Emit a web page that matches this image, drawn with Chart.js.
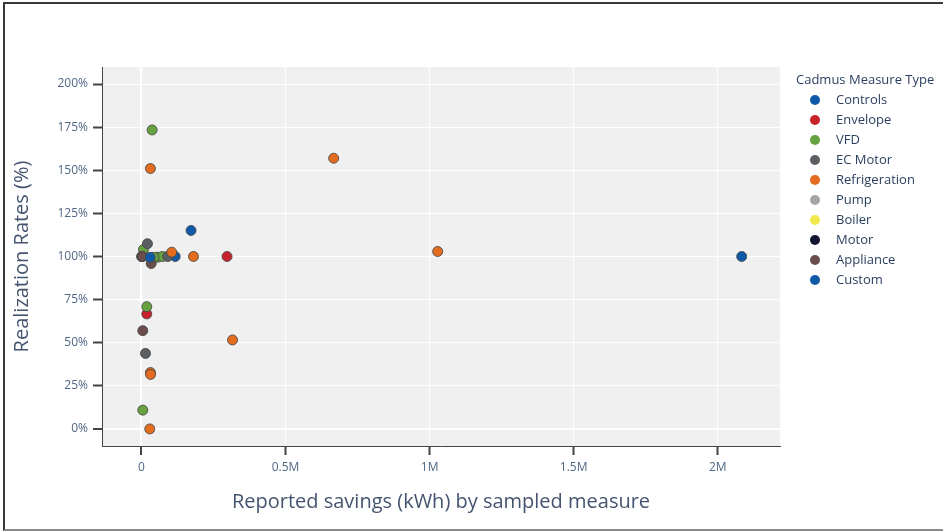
<!DOCTYPE html>
<html>
<head>
<meta charset="utf-8">
<script src="https://cdn.jsdelivr.net/npm/chart.js@4.4.1/dist/chart.umd.min.js"></script>
<style>
  body { margin: 0; background: #fff; overflow: hidden; font-family: "Open Sans", sans-serif; }
  #wrap { position: relative; width: 943px; height: 531px; }
  #frame { position: absolute; left: 3px; top: 2px; width: 960px; height: 525px;
           border-left: 2px solid #3a3a3a; border-top: 2px solid #3a3a3a; border-bottom: 2px solid #8a8a8a;
           pointer-events: none; }
  #legend { position: absolute; left: 796px; top: 71px; color: #2a3f5f; font-size: 13px; }
  #legend .ttl { line-height: 16px; margin-bottom: 2px; }
  #legend .row { line-height: 20px; height: 20px; white-space: nowrap; }
  #legend .dot { display: inline-block; width: 10px; height: 10px; border-radius: 50%;
                 margin-left: 14px; margin-right: 16px; vertical-align: -1px; }
</style>
</head>
<body>
<div id="wrap">
  <canvas id="scatter" width="943" height="531"></canvas>
  <div id="legend"></div>
  <div id="frame"></div>
</div>
<script>
// measure types and their colours (legend order)
const measureTypes = ['Controls', 'Envelope', 'VFD', 'EC Motor', 'Refrigeration', 'Pump', 'Boiler', 'Motor', 'Appliance', 'Custom'];
const typeColors = ['#0f5aa8', '#c8232c', '#66a23f', '#5b5e63', '#e36c1e', '#a6a6a6', '#f2e94e', '#141733', '#6b4d4b', '#0f5aa8'];

// reported savings (kWh) and realization rate (%) per measure type
const controlsSavings = [172000, 117000];
const controlsRates = [115.1, 100];
const envelopeSavings = [297000, 18400];
const envelopeRates = [100, 66.7];
const vfdSavings = [37000, 7000, 56600, 73000, 43000, 18400, 4500];
const vfdRates = [173.4, 104.1, 99.6, 100, 99.5, 70.9, 10.9];
const ecMotorSavings = [20800, 91000, 13900];
const ecMotorRates = [107.4, 100, 43.8];
const refrigerationSavings = [31000, 667000, 1028000, 180500, 316000, 105000, 31000, 31500, 28800];
const refrigerationRates = [151, 157, 102.9, 100, 51.6, 102.5, 32.7, 31.6, 0];
const pumpSavings = [2000];
const pumpRates = [100];
const boilerSavings = [1500];
const boilerRates = [100];
const motorSavings = [1000];
const motorRates = [100];
const applianceSavings = [3500, 33700, 4500];
const applianceRates = [100, 95.9, 57];
const customSavings = [2083000, 30000];
const customRates = [100, 99.5];

const allSavings = [controlsSavings, envelopeSavings, vfdSavings, ecMotorSavings, refrigerationSavings,
                    pumpSavings, boilerSavings, motorSavings, applianceSavings, customSavings];
const allRates = [controlsRates, envelopeRates, vfdRates, ecMotorRates, refrigerationRates,
                  pumpRates, boilerRates, motorRates, applianceRates, customRates];

// axis ticks
const savingsTicks = [0, 500000, 1000000, 1500000, 2000000];
const savingsTickLabels = ['0', '0.5M', '1M', '1.5M', '2M'];
const rateTicks = [0, 25, 50, 75, 100, 125, 150, 175, 200];

const datasets = measureTypes.map((name, i) => ({
  label: name,
  data: allSavings[i].map((x, j) => ({ x: x, y: allRates[i][j] })),
  backgroundColor: typeColors[i],
  borderColor: 'rgba(70,70,70,0.85)',
  borderWidth: 1,
  pointRadius: 5,
  pointHoverRadius: 5,
  order: measureTypes.length - i   // later traces on top, like plotly
}));

// grey plot background
const plotBg = {
  id: 'plotBg',
  beforeDraw(chart) {
    const a = chart.chartArea, ctx = chart.ctx;
    ctx.save();
    ctx.fillStyle = '#f0f0f0';
    ctx.fillRect(a.left, a.top, a.right - a.left, a.bottom - a.top);
    ctx.restore();
  }
};

const gridWidth = c => (c.tick && c.tick.value === 0 ? 2 : 1);

new Chart(document.getElementById('scatter').getContext('2d'), {
  type: 'scatter',
  data: { datasets: datasets },
  plugins: [plotBg],
  options: {
    responsive: false,
    animation: false,
    devicePixelRatio: 1,
    layout: { padding: { top: 67, right: 163, bottom: 0, left: 0 } },
    plugins: {
      legend: { display: false },
      tooltip: { enabled: false }
    },
    scales: {
      x: {
        type: 'linear',
        min: -137000,
        max: 2216000,
        afterBuildTicks: s => { s.ticks = savingsTicks.map(v => ({ value: v })); },
        afterFit: s => { s.height = 85; },
        ticks: {
          autoSkip: false,
          maxRotation: 0,
          padding: 5,
          color: '#506784',
          font: { family: 'Open Sans', size: 12 },
          callback: v => savingsTickLabels[savingsTicks.indexOf(v)]
        },
        grid: { color: '#ffffff', lineWidth: gridWidth, tickColor: '#444', tickLength: 9, tickWidth: 2 },
        border: { display: true, color: '#444', width: 1 },
        title: {
          display: true,
          text: 'Reported savings (kWh) by sampled measure',
          color: '#44546f',
          font: { family: 'Open Sans', size: 20 },
          padding: { top: 0, bottom: 17 }
        }
      },
      y: {
        min: -9.9,
        max: 209.9,
        afterBuildTicks: s => { s.ticks = rateTicks.map(v => ({ value: v })); },
        afterFit: s => { s.width = 102; },
        ticks: {
          autoSkip: false,
          padding: 5,
          color: '#506784',
          font: { family: 'Open Sans', size: 12 },
          callback: v => v + '%'
        },
        grid: { color: '#ffffff', lineWidth: gridWidth, tickColor: '#444', tickLength: 9, tickWidth: 2 },
        border: { display: true, color: '#444', width: 1 },
        title: {
          display: true,
          text: 'Realization Rates (%)',
          color: '#44546f',
          font: { family: 'Open Sans', size: 20 },
          padding: { top: 10, bottom: 0 }
        }
      }
    }
  }
});

// legend, built from the same lists
const legend = document.getElementById('legend');
let html = '<div class="ttl">Cadmus Measure Type</div>';
measureTypes.forEach((name, i) => {
  html += '<div class="row"><span class="dot" style="background:' + typeColors[i] + '"></span>' + name + '</div>';
});
legend.innerHTML = html;
</script>
</body>
</html>
